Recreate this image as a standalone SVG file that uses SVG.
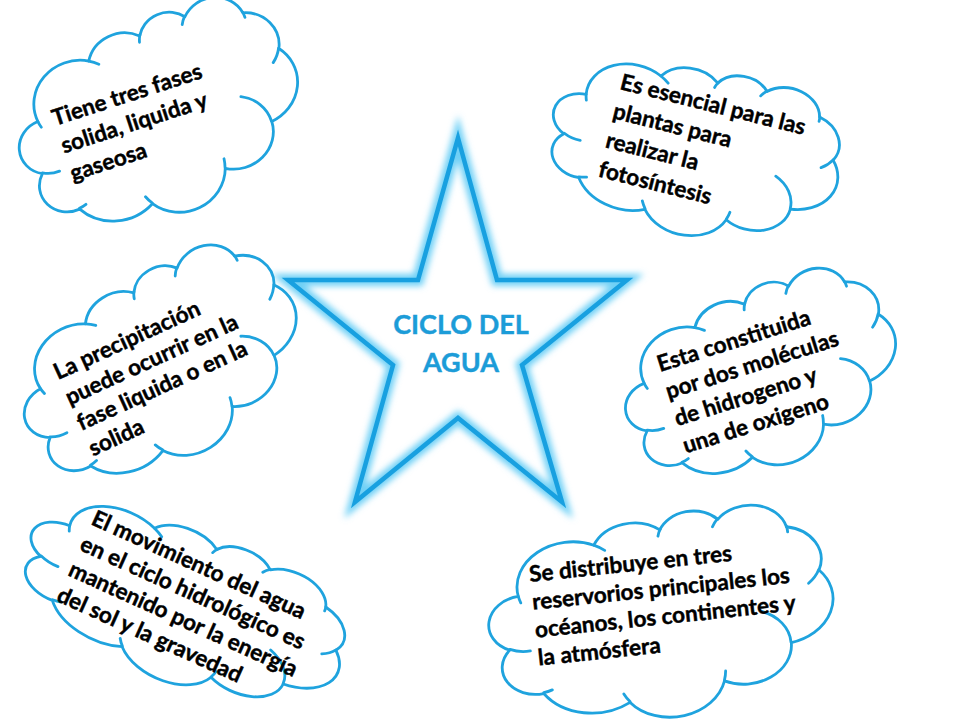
<svg xmlns="http://www.w3.org/2000/svg" xmlns:xlink="http://www.w3.org/1999/xlink" width="960" height="720" viewBox="0 0 960 720">
<style>
.cl{fill:#fff;stroke:#1fa3de;stroke-width:2.8;stroke-linejoin:round;}
.cli{fill:none;stroke:#1fa3de;stroke-width:2.8;stroke-linecap:round;}
.t{font-family:Lato,"Open Sans","Liberation Sans",sans-serif;font-weight:bold;font-size:22.5px;fill:#000;stroke:#000;stroke-width:0.45;}
.st{font-family:Lato,"Open Sans","Liberation Sans",sans-serif;font-weight:bold;font-size:27px;fill:#1c9cd8;stroke:#1c9cd8;stroke-width:0.4;text-anchor:middle;}
</style>
<defs>
<filter id="glow" x="-20%" y="-20%" width="140%" height="140%"><feGaussianBlur stdDeviation="3"/></filter>
<g id="cloud">
<path class="cl" vector-effect="non-scaling-stroke" d="M39,143.7 A67.53,91.9 0 0 1 140.05,52.03 A53.33,72.67 0 0 1 224.55,34.3 A43.65,59.45 0 0 1 298.35,24.85 A48.57,65.95 0 0 1 383.2,55.8 A53.33,72.73 0 0 1 418.21,154.64 A67.75,92.2 0 0 1 374.07,302.08 A57.85,78.67 0 0 1 285.58,368.18 A67.52,92.15 0 0 1 164.83,392.71 A77.2,105.43 0 0 1 58.11,354.72 A43.6,59.18 0 0 1 21.18,255.51 A43.45,59.45 0 0 1 39,143.7 Z"/>
<path class="cli" vector-effect="non-scaling-stroke" d="M46.93,261.77 A43.45,59.45 0 0 1 21.59,253.79 M69.28,348.99 A43.6,59.18 0 0 1 58.21,352.8 M164.78,390.9 A67.52,92.15 0 0 1 158.1,373.48 M288.27,347.51 A67.52,92.15 0 0 1 285.6,366.6 M341.29,229.54 A57.85,78.67 0 0 1 373.75,300.86 M417.98,153.54 A53.33,72.73 0 0 1 403.46,180.34 M383.24,54.26 A48.57,65.95 0 0 1 384.01,66.89 M290.78,39.52 A48.57,65.95 0 0 1 298.2,23.4 M221.41,47.2 A43.65,59.45 0 0 1 225.55,31.85 M140,51.92 A67.53,91.9 0 0 1 153,65.41 M41.27,157.89 A67.53,91.9 0 0 1 39.01,143.69"/>
</g>
</defs>
<rect width="960" height="720" fill="#fff"/>

<g id="star">
<polygon points="458,138 497,280 627,280 522,365 562,502 458,418 355,502 393,365 288,280 418,280" fill="#fff"/>
<polygon points="458,138 497,280 627,280 522,365 562,502 458,418 355,502 393,365 288,280 418,280" fill="none" stroke="#6fd0f6" stroke-width="12" stroke-linejoin="miter" filter="url(#glow)"/>
<polygon points="458,138 497,280 627,280 522,365 562,502 458,418 355,502 393,365 288,280 418,280" fill="none" stroke="#18a0e0" stroke-width="4.5" stroke-linejoin="miter"/>
<text class="st" x="461" y="334">CICLO DEL</text>
<text class="st" x="461" y="372">AGUA</text>
</g>

<g id="cloud1">
<use xlink:href="#cloud" transform="translate(160,117) rotate(-18) scale(0.664,0.456) translate(-216,-217)"/>
<text class="t" transform="translate(55,126) rotate(-18)"><tspan x="0" y="0">Tiene tres fases</tspan><tspan x="0" y="29">solida, liquida y</tspan><tspan x="0" y="58">gaseosa</tspan></text>
</g>

<g id="cloud2">
<use xlink:href="#cloud" transform="translate(695,151) rotate(14) scale(0.674,0.391) translate(-216,-217)"/>
<text class="t" transform="translate(619,89) rotate(14)"><tspan x="0" y="0">Es esencial para las</tspan><tspan x="0" y="30">plantas para</tspan><tspan x="0" y="60">realizar la</tspan><tspan x="0" y="90">fotosíntesis</tspan></text>
</g>

<g id="cloud3">
<use xlink:href="#cloud" transform="translate(162,367) rotate(-25) scale(0.674,0.433) translate(-216,-217)"/>
<text class="t" transform="translate(58,380) rotate(-24.6)"><tspan x="0" y="0">La precipitación</tspan><tspan x="0" y="28">puede ocurrir en la</tspan><tspan x="0" y="56">fase liquida o en la</tspan><tspan x="0" y="84">solida</tspan></text>
</g>

<g id="cloud4">
<use xlink:href="#cloud" transform="translate(762,378) rotate(-17.5) scale(0.644,0.414) translate(-216,-217)"/>
<text class="t" transform="translate(660,372) rotate(-17.5)"><tspan x="0" y="0">Esta constituida</tspan><tspan x="0" y="28.5">por dos moléculas</tspan><tspan x="0" y="57">de hidrogeno y</tspan><tspan x="0" y="85.5">una de oxigeno</tspan></text>
</g>

<g id="cloud5">
<use xlink:href="#cloud" transform="translate(184,606) rotate(24.3) scale(0.775,0.356) translate(-216,-217)"/>
<text class="t" transform="translate(90,524) rotate(24.3)"><tspan x="0" y="0">El movimiento del agua</tspan><tspan x="0" y="28">en el ciclo hidrológico es</tspan><tspan x="0" y="56">mantenido por la energía</tspan><tspan x="0" y="84">del sol y la gravedad</tspan></text>
</g>

<g id="cloud6">
<use xlink:href="#cloud" transform="translate(662,616) rotate(-6) scale(0.796,0.470) translate(-216,-217)"/>
<text class="t" transform="translate(530,582) rotate(-6)"><tspan x="0" y="0">Se distribuye en tres</tspan><tspan x="0" y="28">reservorios principales los</tspan><tspan x="0" y="56">océanos, los continentes y</tspan><tspan x="0" y="84">la atmósfera</tspan></text>
</g>

<g id="connectors"></g>
</svg>
